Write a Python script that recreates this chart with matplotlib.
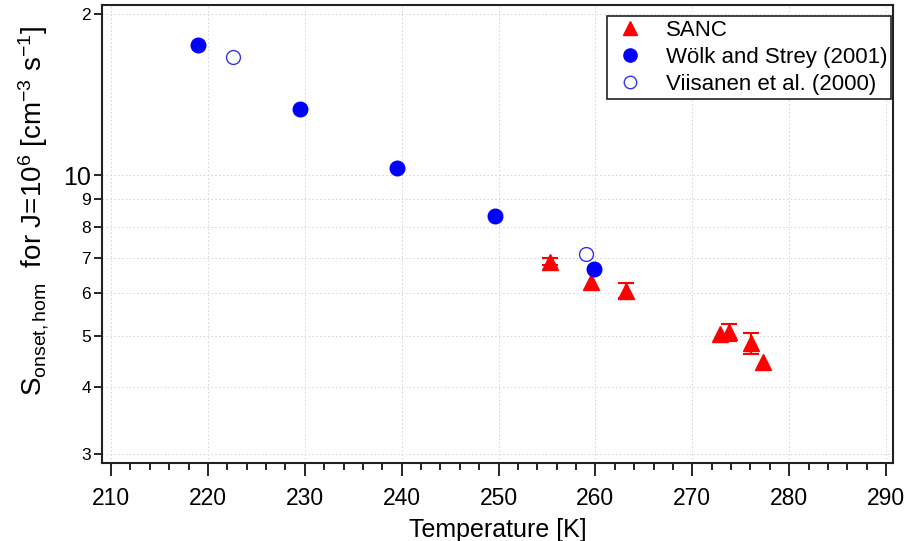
import matplotlib
matplotlib.use("Agg")
import matplotlib.pyplot as plt
from matplotlib.lines import Line2D
from matplotlib.ticker import FixedLocator, FixedFormatter, NullLocator, MultipleLocator

plt.rcParams['font.family'] = ['Liberation Sans', 'DejaVu Sans']
plt.rcParams['mathtext.fontset'] = 'custom'
plt.rcParams['mathtext.rm'] = 'Liberation Sans'
plt.rcParams['mathtext.it'] = 'Liberation Sans:italic'

# SANC measurements
sanc_T = [255.3, 259.5, 263.2, 272.9, 273.8, 276.1, 277.3]
sanc_S = [6.88, 6.29, 6.07, 5.03, 5.07, 4.84, 4.47]
sanc_lo = [0.10, 0.0, 0.20, 0.0, 0.18, 0.22, 0.0]
sanc_hi = [0.10, 0.0, 0.20, 0.0, 0.19, 0.22, 0.0]

# Wölk and Strey (2001)
wolk_T = [219.0, 229.5, 239.55, 249.6, 259.85]
wolk_S = [17.5, 13.27, 10.32, 8.38, 6.66]

# Viisanen et al. (2000)
viis_T = [222.6, 259.0]
viis_S = [16.66, 7.11]

x_ticks = [210, 220, 230, 240, 250, 260, 270, 280, 290]
y_ticks = [3, 4, 5, 6, 7, 8, 9, 10, 20]
y_tick_labels = ['3', '4', '5', '6', '7', '8', '9', '10', '2']

RED = '#ff0000'
BLUE = '#0000ff'
OPEN_BLUE = '#3333ee'

fig = plt.figure(figsize=(9.06, 5.41), dpi=100)
ax = fig.add_axes([102 / 906, 1 - 463 / 541, (893 - 102) / 906, (463 - 5) / 541])

ax.set_yscale('log')
ax.set_xlim(209.07, 290.72)
ax.set_ylim(2.886, 20.83)

# error bars only where an uncertainty exists
err_idx = [i for i in range(len(sanc_T)) if sanc_lo[i] > 0 or sanc_hi[i] > 0]
ax.errorbar([sanc_T[i] for i in err_idx], [sanc_S[i] for i in err_idx],
            yerr=[[sanc_lo[i] for i in err_idx], [sanc_hi[i] for i in err_idx]],
            fmt='none', ecolor=RED, capsize=6, elinewidth=1.5, capthick=1.5, zorder=3)
ax.plot(sanc_T, sanc_S, '^', color=RED, ms=12, zorder=3)
ax.plot(wolk_T, wolk_S, 'o', color=BLUE, ms=10.5, zorder=4)
ax.plot(viis_T, viis_S, 'o', mfc='none', mec=OPEN_BLUE, mew=1.0, ms=10, zorder=4)

ax.xaxis.set_major_locator(FixedLocator(x_ticks))
ax.xaxis.set_minor_locator(MultipleLocator(2))
ax.yaxis.set_major_locator(FixedLocator(y_ticks))
ax.yaxis.set_major_formatter(FixedFormatter(y_tick_labels))
ax.yaxis.set_minor_locator(NullLocator())

ax.grid(True, which='major', color='#d4d4d4', linestyle=(0, (1.5, 2.5)), linewidth=0.7)
ax.set_axisbelow(True)

ax.tick_params(axis='x', which='major', direction='out', length=9, width=1.2,
               labelsize=16.5, pad=8)
ax.tick_params(axis='x', which='minor', direction='out', length=5, width=1.2)
ax.tick_params(axis='y', which='major', direction='out', length=6, width=1.2,
               labelsize=12.5, pad=2)
for lbl in ax.get_yticklabels():
    if lbl.get_text() == '10':
        lbl.set_fontsize(18)

for sp in ax.spines.values():
    sp.set_linewidth(1.5)
    sp.set_color('#222222')

ax.set_xlabel('Temperature [K]', fontsize=18, labelpad=6)
ax.set_ylabel(r'S$_{\rm onset,hom}$  for J=10$^{6}$ [cm$^{-3}$ s$^{-1}$]', fontsize=20)
ax.yaxis.set_label_coords(-0.064, 0.55)

handles = [
    Line2D([], [], ls='none', marker='^', color=RED, ms=10),
    Line2D([], [], ls='none', marker='o', color=BLUE, ms=9.5),
    Line2D([], [], ls='none', marker='o', mfc='none', mec=OPEN_BLUE, mew=1.0, ms=9),
]
labels = ['SANC', 'Wölk and Strey (2001)', 'Viisanen et al. (2000)']
leg = ax.legend(handles, labels, loc='upper right', bbox_to_anchor=(0.9975, 0.975),
                fontsize=16, frameon=True, fancybox=False, edgecolor='#222222',
                borderpad=0.15, handletextpad=0.8, labelspacing=0.28,
                handlelength=1.7, borderaxespad=0.0, framealpha=1)
leg.get_frame().set_linewidth(1.2)

fig.savefig('out.png', dpi=100)
